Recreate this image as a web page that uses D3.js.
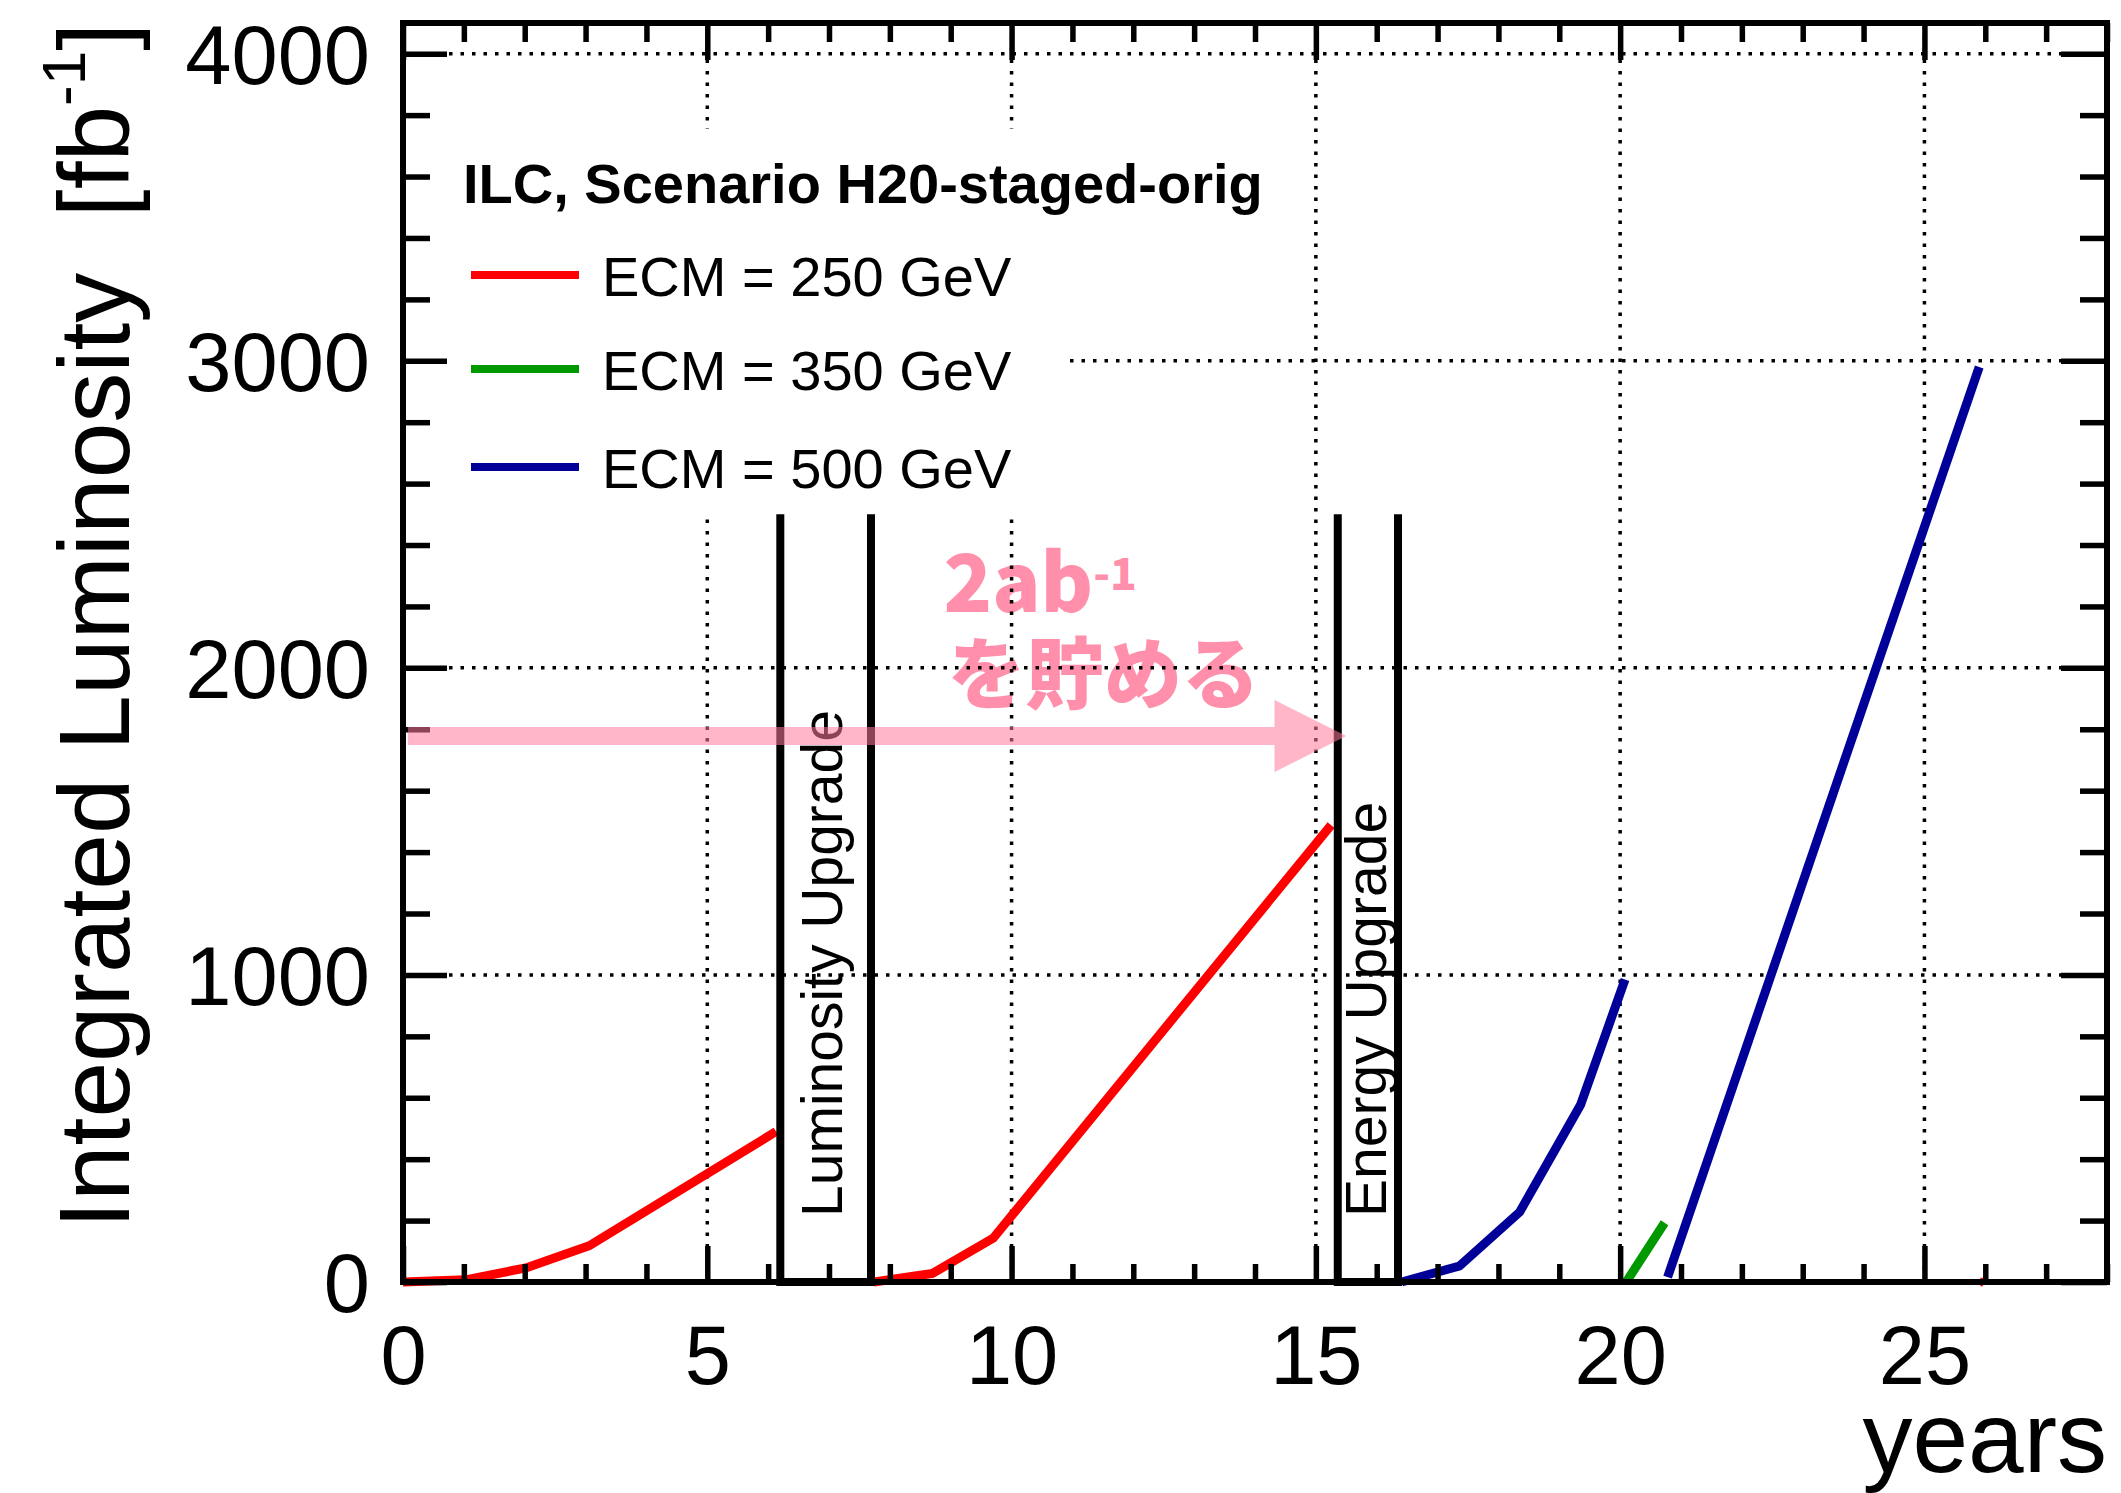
<!DOCTYPE html>
<html>
<head>
  <meta charset="utf-8" />
  <title>ILC luminosity scenario</title>
  <script src="https://cdn.jsdelivr.net/npm/d3@7"></script>
  <style>
    body { margin: 0; background: #fff; }
    svg { display: block; }
    text { font-family: "Liberation Sans", Arial, Helvetica, sans-serif; }
    .pink { font-family: "Noto Sans CJK JP", "Noto Sans", sans-serif; font-weight: 900; fill: #ff8fab; }
  </style>
</head>
<body>
  <div id="chart"></div>
  <script>
    // data (x = years, y = fb^-1)
    const run250a = [[0, 0], [1.03, 7], [2.02, 46], [3.06, 118], [6.13, 490]];
    const run250b = [[7.74, 0], [8.70, 28], [9.70, 143], [15.25, 1488]];
    const run250c = [[25.94, -14], [25.94, 14]];
    const run500a = [[16.41, 0], [17.36, 52], [18.35, 228], [19.35, 577], [20.08, 985]];
    const run350 = [[20.10, 0], [20.73, 193]];
    const run500b = [[20.78, 16], [25.90, 2980]];

    const upgradeNames = ["Luminosity Upgrade", "Energy Upgrade"];
    const upgradeStart = [6.20, 15.36];
    const upgradeEnd = [7.69, 16.35];
    const upgradeLabelX = [7.21, 16.15];
    const upgradeTop = 2500;

    const legendNames = ["ECM = 250 GeV", "ECM = 350 GeV", "ECM = 500 GeV"];
    const legendColors = ["#ff0000", "#009900", "#000099"];

    const xMajor = [0, 5, 10, 15, 20, 25];
    const yMajor = [0, 1000, 2000, 3000, 4000];

    const W = 2121, H = 1493;
    const svg = d3.select("#chart").append("svg")
      .attr("width", W).attr("height", H);

    const x = d3.scaleLinear().domain([0, 28]).range([403, 2107]);
    const y = d3.scaleLinear().domain([0, 4100]).range([1282, 23]);

    const line = d3.line().x(d => x(d[0])).y(d => y(d[1]));

    // pink note text (sits under the grid in the reference)
    const note = svg.append("text").attr("class", "pink")
      .attr("x", x(8.88)).attr("y", 612).attr("font-size", 80);
    note.append("tspan").text("2ab");
    note.append("tspan").attr("font-size", 44).attr("dy", -22).text("-1");
    svg.append("text").attr("class", "pink")
      .attr("x", x(8.95)).attr("y", 703).attr("font-size", 78)
      .text("を貯める");

    // grid
    const grid = svg.append("g")
      .attr("stroke", "#000").attr("stroke-width", 3.5).attr("stroke-dasharray", "3.5 8");
    grid.selectAll(".gx").data(xMajor.slice(1)).join("line")
      .attr("x1", d => x(d)).attr("x2", d => x(d))
      .attr("y1", y(0)).attr("y2", y(4100));
    grid.selectAll(".gy").data(yMajor.slice(1)).join("line")
      .attr("x1", x(0)).attr("x2", x(28))
      .attr("y1", d => y(d)).attr("y2", d => y(d));

    // legend box hides the grid behind it
    svg.append("rect")
      .attr("x", x(0) + 3).attr("y", 129)
      .attr("width", 1069 - x(0) - 3).attr("height", 388)
      .attr("fill", "#fff");

    // data lines
    const series = [
      [run250a, legendColors[0], 9], [run250b, legendColors[0], 9], [run250c, legendColors[0], 2.5],
      [run500a, legendColors[2], 9], [run350, legendColors[1], 9], [run500b, legendColors[2], 9]
    ];
    svg.append("g").selectAll("path").data(series).join("path")
      .attr("d", d => line(d[0]))
      .attr("fill", "none")
      .attr("stroke", d => d[1])
      .attr("stroke-width", d => d[2])
      .attr("stroke-linejoin", "miter");

    // upgrade boxes
    const boxes = svg.append("g");
    boxes.selectAll("path").data(upgradeStart).join("path")
      .attr("d", (d, i) => `M${x(d)},${y(upgradeTop)}V${y(0)}H${x(upgradeEnd[i])}V${y(upgradeTop)}`)
      .attr("fill", "none").attr("stroke", "#000").attr("stroke-width", 8);
    boxes.selectAll("text").data(upgradeNames).join("text")
      .attr("transform", (d, i) => `translate(${x(upgradeLabelX[i])},${y(0) - 65}) rotate(-90)`)
      .attr("font-size", 57)
      .text(d => d);

    // axes, ticks on all four sides pointing inward
    function ticks(axis, pos, vals, len) {
      const g = svg.append("g").attr("transform", pos)
        .call(axis.tickValues(vals).tickSize(-len).tickSizeOuter(0).tickFormat(""));
      g.select(".domain").remove();
      g.selectAll("line").attr("stroke", "#000").attr("stroke-width", 5.5);
      return g;
    }
    const yMinor = d3.range(0, 4001, 200).filter(v => v % 1000 !== 0);
    const xMinor = d3.range(0, 29).filter(v => v % 5 !== 0);
    ticks(d3.axisLeft(y), `translate(${x(0)},0)`, yMinor, 27);
    ticks(d3.axisRight(y), `translate(${x(28)},0)`, yMinor, 27);
    ticks(d3.axisRight(y), `translate(${x(28)},0)`, yMajor, 46);
    ticks(d3.axisBottom(x), `translate(0,${y(0)})`, xMinor, 18);
    ticks(d3.axisTop(x), `translate(0,${y(4100)})`, xMinor, 19);
    ticks(d3.axisTop(x), `translate(0,${y(4100)})`, xMajor, 37);

    const yAx = svg.append("g").attr("transform", `translate(${x(0)},0)`)
      .call(d3.axisLeft(y).tickValues(yMajor).tickFormat(d3.format("d"))
        .tickSize(-44).tickSizeOuter(0).tickPadding(33));
    const xAx = svg.append("g").attr("transform", `translate(0,${y(0)})`)
      .call(d3.axisBottom(x).tickValues(xMajor).tickFormat(d3.format("d"))
        .tickSize(-36).tickSizeOuter(0).tickPadding(43));
    [yAx, xAx].forEach(g => {
      g.select(".domain").remove();
      g.attr("font-family", null).attr("font-size", 83);
      g.selectAll("line").attr("stroke", "#000").attr("stroke-width", 5.5);
      g.selectAll("text").attr("fill", "#000");
    });
    yAx.selectAll("text").attr("dy", "0.36em");

    svg.append("rect")
      .attr("x", x(0)).attr("y", y(4100))
      .attr("width", x(28) - x(0)).attr("height", y(0) - y(4100))
      .attr("fill", "none").attr("stroke", "#000").attr("stroke-width", 6);

    // axis titles
    svg.append("text")
      .attr("x", x(28)).attr("y", 1472)
      .attr("text-anchor", "end").attr("font-size", 100)
      .text("years");
    const yt = svg.append("text")
      .attr("transform", `translate(129,${y(4100)}) rotate(-90)`)
      .attr("text-anchor", "end").attr("font-size", 100);
    yt.append("tspan").text("Integrated Luminosity\u00A0\u00A0[fb");
    yt.append("tspan").attr("font-size", 62).attr("dy", -44).text("-1");
    yt.append("tspan").attr("dy", 44).text("]");

    // legend
    const leg = svg.append("g");
    leg.append("text")
      .attr("x", 463).attr("y", 203)
      .attr("font-size", 56).attr("font-weight", "bold")
      .text("ILC, Scenario H20-staged-orig");
    const rows = [275, 369, 467];
    leg.selectAll("line").data(legendNames).join("line")
      .attr("x1", 471).attr("x2", 579)
      .attr("y1", (d, i) => rows[i]).attr("y2", (d, i) => rows[i])
      .attr("stroke", (d, i) => legendColors[i]).attr("stroke-width", 8);
    leg.selectAll(".lt").data(legendNames).join("text")
      .attr("x", 602).attr("y", (d, i) => rows[i] + 21)
      .attr("font-size", 56)
      .text(d => d);

    // pink arrow, drawn translucent over everything
    const arrowY = 1778, arrowX0 = 0.08, arrowHead = 14.32, arrowTip = 15.5;
    const ay = y(arrowY);
    svg.append("path")
      .attr("d", `M${x(arrowX0)},${ay - 9}H${x(arrowHead)}V${ay - 36}L${x(arrowTip)},${ay}` +
                 `L${x(arrowHead)},${ay + 36}V${ay + 9}H${x(arrowX0)}Z`)
      .attr("fill", "#ff7a9b").attr("fill-opacity", 0.55);
  </script>
</body>
</html>
